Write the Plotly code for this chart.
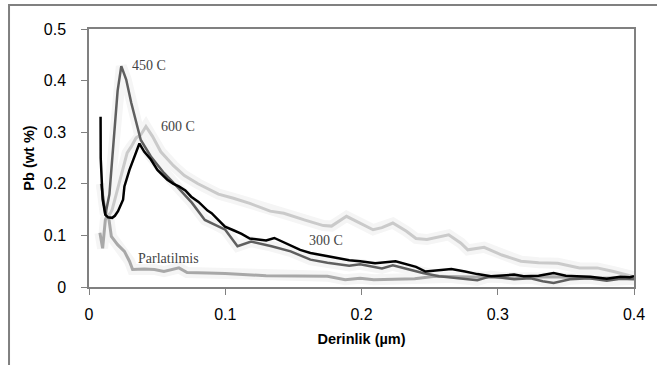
import plotly.graph_objects as go

# ---- data ----
x_300 = [0.0085, 0.0086, 0.010, 0.012, 0.014, 0.017, 0.019, 0.0213, 0.025, 0.026, 0.0297, 0.0333, 0.037,
         0.0406, 0.0454, 0.0502, 0.0575, 0.062, 0.066, 0.0707, 0.075, 0.0804, 0.087, 0.09, 0.0998, 0.106,
         0.112, 0.118, 0.124, 0.130, 0.136, 0.142, 0.148, 0.155, 0.1625, 0.170, 0.177, 0.185, 0.191, 0.199,
         0.21, 0.225, 0.232, 0.24, 0.247, 0.257, 0.266, 0.276, 0.285, 0.295, 0.305, 0.312, 0.319, 0.33,
         0.341, 0.35, 0.358, 0.368, 0.38, 0.39, 0.397, 0.4]
y_300 = [0.33, 0.25, 0.17, 0.14, 0.135, 0.134, 0.138, 0.147, 0.169, 0.195, 0.227, 0.253, 0.278,
         0.262, 0.247, 0.227, 0.208, 0.2, 0.195, 0.187, 0.175, 0.165, 0.148, 0.143, 0.117, 0.11,
         0.103, 0.094, 0.092, 0.09, 0.095, 0.088, 0.08, 0.072, 0.066, 0.062, 0.059, 0.055, 0.052, 0.05,
         0.046, 0.05, 0.045, 0.039, 0.03, 0.032, 0.035, 0.03, 0.025, 0.021, 0.022, 0.024, 0.021, 0.022,
         0.027, 0.022, 0.021, 0.02, 0.016, 0.02, 0.019, 0.021]

x_450 = [0.009, 0.012, 0.015, 0.018, 0.021, 0.0237, 0.0273, 0.031, 0.0346, 0.038, 0.0454, 0.055, 0.0645,
         0.0756, 0.085, 0.0925, 0.1, 0.109, 0.119, 0.134, 0.148, 0.1625, 0.175, 0.191, 0.199, 0.215,
         0.223, 0.235, 0.245, 0.257, 0.271, 0.285, 0.295, 0.312, 0.324, 0.333, 0.341, 0.353, 0.367,
         0.38, 0.39, 0.4]
y_450 = [0.2, 0.14, 0.18, 0.28, 0.38, 0.428, 0.402, 0.357, 0.318, 0.285, 0.253, 0.221, 0.195,
         0.163, 0.13, 0.121, 0.111, 0.079, 0.088, 0.079, 0.069, 0.053, 0.047, 0.041, 0.044, 0.036,
         0.042, 0.034, 0.027, 0.021, 0.017, 0.013, 0.021, 0.015, 0.017, 0.011, 0.008, 0.015, 0.017,
         0.012, 0.016, 0.015]

x_600 = [0.009, 0.011, 0.014, 0.017, 0.019, 0.022, 0.025, 0.028, 0.031, 0.0346, 0.038, 0.0418, 0.0466,
         0.0527, 0.062, 0.07, 0.08, 0.095, 0.106, 0.118, 0.133, 0.143, 0.158, 0.172, 0.178, 0.189,
         0.2085, 0.215, 0.223, 0.233, 0.24, 0.248, 0.264, 0.273, 0.278, 0.29, 0.303, 0.317, 0.33,
         0.344, 0.36, 0.373, 0.385, 0.392, 0.4]
y_600 = [0.2, 0.16, 0.135, 0.15, 0.17, 0.2, 0.235, 0.26, 0.272, 0.289, 0.295, 0.311, 0.292,
         0.262, 0.235, 0.216, 0.2, 0.18, 0.172, 0.162, 0.147, 0.143, 0.13, 0.119, 0.118, 0.137,
         0.111, 0.115, 0.124, 0.108, 0.094, 0.092, 0.101, 0.085, 0.072, 0.077, 0.062, 0.05, 0.047,
         0.046, 0.037, 0.037, 0.03, 0.026, 0.02]

x_par = [0.008, 0.010, 0.012, 0.014, 0.0164, 0.021, 0.026, 0.0297, 0.032, 0.0406, 0.048, 0.055, 0.066,
         0.072, 0.087, 0.1, 0.13, 0.166, 0.175, 0.188, 0.199, 0.209, 0.223, 0.239, 0.254, 0.28, 0.31,
         0.34, 0.37, 0.4]
y_par = [0.105, 0.075, 0.13, 0.143, 0.098, 0.082, 0.069, 0.05, 0.034, 0.035, 0.034, 0.03, 0.037,
         0.028, 0.027, 0.026, 0.022, 0.021, 0.021, 0.014, 0.017, 0.014, 0.015, 0.016, 0.021, 0.02, 0.018,
         0.02, 0.017, 0.018]

x_ticks = [0, 0.1, 0.2, 0.3, 0.4]
x_ticktext = ["0", "0.1", "0.2", "0.3", "0.4"]
y_ticks = [0, 0.1, 0.2, 0.3, 0.4, 0.5]
y_ticktext = ["0", "0.1", "0.2", "0.3", "0.4", "0.5"]

labels = ["450 C", "600 C", "300 C", "Parlatilmis"]
label_x = [0.044, 0.0656, 0.174, 0.058]
label_y = [0.429, 0.311, 0.090, 0.056]

fig = go.Figure()

# faint halo behind the curves (scan shading)
for xs, ys in [(x_600, y_600), (x_par, y_par), (x_450, y_450)]:
    fig.add_trace(go.Scatter(x=xs, y=ys, mode="lines",
                             line=dict(color="#f5f5f5", width=11), hoverinfo="skip", showlegend=False))

fig.add_trace(go.Scatter(x=x_par, y=y_par, mode="lines", name="Parlatilmis",
                         line=dict(color="#a8a8a8", width=3), showlegend=False))
fig.add_trace(go.Scatter(x=x_600, y=y_600, mode="lines", name="600 C",
                         line=dict(color="#cacaca", width=3), showlegend=False))
fig.add_trace(go.Scatter(x=x_450, y=y_450, mode="lines", name="450 C",
                         line=dict(color="#5f5f5f", width=2.5), showlegend=False))
fig.add_trace(go.Scatter(x=x_300, y=y_300, mode="lines", name="300 C",
                         line=dict(color="#000000", width=2.5), showlegend=False))

for t, lx, ly in zip(labels, label_x, label_y):
    fig.add_annotation(x=lx, y=ly, text=t, showarrow=False,
                       font=dict(family="Liberation Serif, Times New Roman, serif", size=14, color="#444444"))

# outer chart frame (left and top visible)
fig.add_shape(type="rect", xref="paper", yref="paper",
              x0=(8 - 89) / 552, x1=(670 - 89) / 552, y0=(287 - 380) / 258, y1=(287 - 5) / 258,
              line=dict(color="#808080", width=2), fillcolor="rgba(0,0,0,0)", layer="below")

axis_font = dict(family="Liberation Sans, Arial, sans-serif", size=16, color="#000000")
title_font = dict(family="Liberation Sans, Arial, sans-serif", size=14.5, color="#000000")
fig.update_layout(
    width=657, height=365,
    margin=dict(l=89, r=16, t=29, b=78),
    paper_bgcolor="white", plot_bgcolor="white",
    xaxis=dict(range=[0, 0.4], tickvals=x_ticks, ticktext=x_ticktext, showgrid=False, zeroline=False,
               showline=True, linecolor="#808080", linewidth=1.5, mirror=True,
               ticks="outside", ticklen=6, tickcolor="#808080", tickfont=axis_font,
               ticklabelstandoff=6,
               title=dict(text="<b>Derinlik (µm)</b>", standoff=12, font=title_font)),
    yaxis=dict(range=[0, 0.5], tickvals=y_ticks, ticktext=y_ticktext, showgrid=False, zeroline=False,
               showline=True, linecolor="#808080", linewidth=1.5, mirror=True,
               ticks="outside", ticklen=6, tickcolor="#808080", tickfont=axis_font,
               ticklabelstandoff=12,
               title=dict(text="<b>Pb (wt %)</b>", standoff=6, font=title_font)),
)

fig.write_html("out.html")
